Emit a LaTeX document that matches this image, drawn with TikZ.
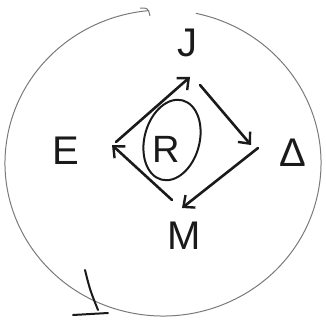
\documentclass[tikz,border=0pt]{standalone}
\usepackage{xcolor}
\usepackage{fontspec}
\setmainfont{Liberation Sans}
\usepackage{tikz}
\usetikzlibrary{positioning, arrows.meta, calc, shapes.geometric}
\definecolor{ringgray}{HTML}{7A7A7A}
\definecolor{inkblack}{HTML}{1A1A1A}

\begin{document}
\begin{tikzpicture}[x=1pt, y=-1pt,
    letter/.style={font=\fontsize{40}{40}\selectfont, text=inkblack, inner sep=0pt},
    flow/.style={draw=inkblack, line width=2.6pt, line cap=round,
                 -{Straight Barb[length=9pt, width=16pt, line width=2.4pt]}},
    ring/.style={draw=ringgray, line width=1pt}]
    \useasboundingbox (0,0) rectangle (326,321);
    % outer cycle
    \draw[ring] (163,163) ++(-78:158 and 153) arc[start angle=-78, end angle=265, x radius=158, y radius=153];
    \draw[ring] (140,8) .. controls (148,8) .. (150,16);
    \draw[inkblack, line width=2pt, line cap=round] (85,270) .. controls (90,290) .. (98,310);
    \draw[inkblack, line width=2pt, line cap=round] (73,315) -- (108,313);
    % labels
    \node[letter] (J) at (187,43) {J};
    \node[letter] (E) at (66,151) {E};
    \node[letter] (D) at (293,153) {Δ};
    \node[letter] (M) at (184,236) {M};
    \node[letter, font=\fontsize{38}{38}\selectfont] (R) at (166,149) {R};
    \node[draw=inkblack, line width=2pt, ellipse, rotate=-15,
          minimum width=55pt, minimum height=82pt] (Rring) at (172,140) {};
    % diamond corners
    \coordinate (cJ) at (190,77);
    \coordinate (cJb) at (200,85);
    \coordinate (cA) at (251,145);
    \coordinate (cAb) at (258,148);
    \coordinate (cM) at (182,208);
    \coordinate (cMb) at (172,200);
    \coordinate (cE) at (112,145);
    \coordinate (cEb) at (116,142);
    \draw[flow] (cEb) -- (cJ);
    \draw[flow] (cJb) -- (cA);
    \draw[flow] (cAb) -- (cM);
    \draw[flow] (cMb) -- (cE);
  \end{tikzpicture}
\end{document}
